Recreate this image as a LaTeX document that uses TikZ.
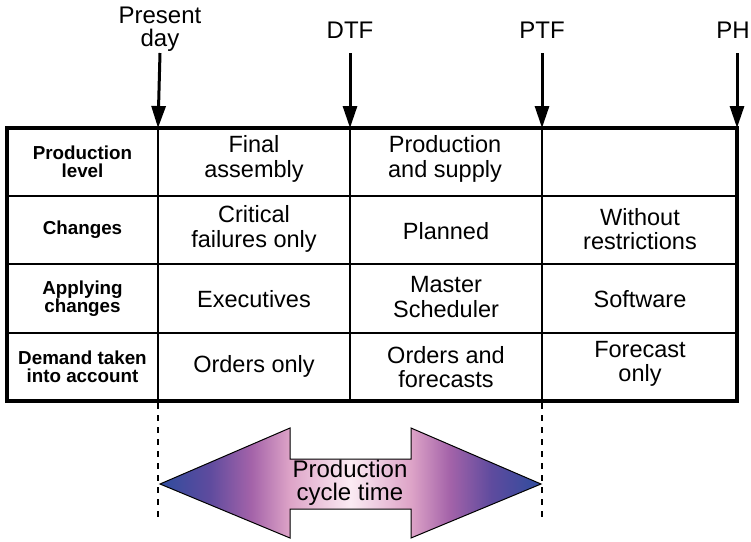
\documentclass[tikz,border=0pt]{standalone}
\usepackage{fontspec}
\setmainfont{Liberation Sans}
\usetikzlibrary{arrows.meta}

\definecolor{pcBlue}{HTML}{2F4C9E}
\definecolor{pcViolet}{HTML}{5E4B9E}
\definecolor{pcMauve}{HTML}{A463A9}
\definecolor{pcPink}{HTML}{DDA3C7}
\definecolor{pcPale}{HTML}{FBEBF3}

% horizontal shading of the double arrow: blue tips, pale middle
\pgfdeclarehorizontalshading{cycleshade}{100bp}{%
  color(0bp)=(pcBlue); color(25bp)=(pcBlue); color(31.5bp)=(pcViolet);
  color(37bp)=(pcMauve); color(42bp)=(pcPink); color(50bp)=(pcPale);
  color(58bp)=(pcPink); color(63bp)=(pcMauve); color(68.5bp)=(pcViolet);
  color(75bp)=(pcBlue); color(100bp)=(pcBlue)}

\tikzset{
  celltext/.style={inner sep=0pt, align=center, font=\fontsize{23.5}{24.5}\selectfont},
  headtext/.style={inner sep=0pt, align=center, font=\bfseries\fontsize{18.8}{18.5}\selectfont},
  marktext/.style={inner sep=0pt, align=center, font=\fontsize{24}{23.5}\selectfont},
  fence/.style={line width=3pt, -{Triangle[length=22pt,width=14pt]}},
  gridline/.style={line width=2pt},
  frameline/.style={line width=4pt},
  guideline/.style={line width=1.6pt, dash pattern=on 6pt off 6pt},
}

\begin{document}
\begin{tikzpicture}[x=1pt,y=-1pt]
  \useasboundingbox[fill=white] (0,0) rectangle (751,541);

  % table corners and column tops
  \coordinate (tl) at (7,128);
  \coordinate (br) at (737,401);
  \coordinate (c0) at (158,128);
  \coordinate (c1) at (350,128);
  \coordinate (c2) at (542,128);
  \coordinate (c3) at (737,128);

  % time fence labels and arrows
  \node[marktext] (present) at (160,29) {Present\\day};
  \node[marktext] (dtf) at (350,30) {DTF};
  \node[marktext] (ptf) at (542,30) {PTF};
  \node[marktext] (ph) at (733,30) {PH};
  \draw[fence] (160,53) -- (c0);
  \draw[fence] (350,53) -- (c1);
  \draw[fence] (542,53) -- (c2);
  \draw[fence] (737,53) -- (c3);

  % grid
  \foreach \y in {196,264,333} \draw[gridline] (7,\y) -- (737,\y);
  \foreach \x in {158,350,542} \draw[gridline] (\x,128) -- (\x,401);
  \draw[frameline] (tl) rectangle (br);

  % row headings
  \node[headtext] (h1) at (82.5,162) {Production\\level};
  \node[headtext] (h2) at (82.5,230) {Changes};
  \node[headtext] (h3) at (82.5,298.5) {Applying\\changes};
  \node[headtext] (h4) at (82.5,367) {Demand taken\\into account};

  % cells
  \node[celltext] (a1) at (254,159) {Final\\assembly};
  \node[celltext] (b1) at (445,159) {Production\\and supply};

  \node[celltext] (a2) at (254,229) {Critical\\failures only};
  \node[celltext] (b2) at (446,231) {Planned};
  \node[celltext] (c2t) at (640,229) {Without\\restrictions};

  \node[celltext] (a3) at (254,299) {Executives};
  \node[celltext] (b3) at (446,297) {Master\\Scheduler};
  \node[celltext] (c3t) at (640,299) {Software};

  \node[celltext] (a4) at (254,366) {Orders only};
  \node[celltext] (b4) at (446,367) {Orders and\\forecasts};
  \node[celltext] (c4t) at (640,364) {Forecast\\only};

  % guides down to the cycle-time arrow
  \draw[guideline] (158,403) -- (158,522);
  \draw[guideline] (542,403) -- (542,522);

  % production cycle time double arrow
  \draw[line width=1pt, shading=cycleshade]
    (160,484) -- (290,428) -- (290,459) -- (411,459) -- (411,428) -- (541,484)
    -- (411,538) -- (411,509) -- (290,509) -- (290,538) -- cycle;
  \node[marktext] (cycle) at (350,483) {Production\\cycle time};
\end{tikzpicture}
\end{document}
